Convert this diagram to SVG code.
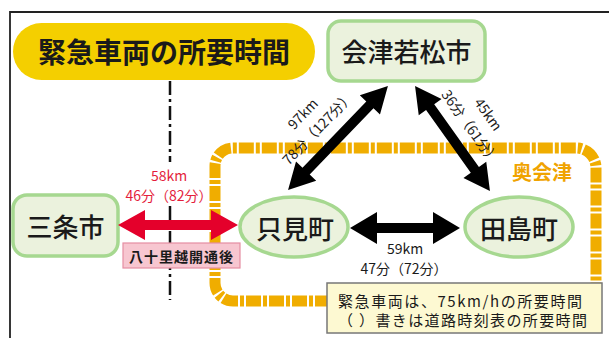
<svg xmlns="http://www.w3.org/2000/svg" width="609" height="338" viewBox="0 0 609 338">
<style>
text{font-family:"Noto Sans CJK JP","Noto Sans",sans-serif;dominant-baseline:central}
.node{fill:#ebf2dd;stroke:#a6d890;stroke-width:3.5}
.nl{font-size:26px;fill:#1a1a1a;text-anchor:middle;font-weight:500}
.lbl{font-size:14px;fill:#1a1a1a;text-anchor:middle}
.red{font-size:14px;fill:#e41e3c;text-anchor:middle}
.blk{fill:#000}
</style>
<rect width="609" height="338" fill="#fff"/>
<path d="M10 338 V12 H609" fill="none" stroke="#222" stroke-width="1.8"/>

<g id="area">
<path d="M330 301 H233 A18 18 0 0 1 215 283 V166 A18 18 0 0 1 233 148 H576 A20 20 0 0 1 596 168 V290" fill="none" stroke="#f0ad00" stroke-width="11" stroke-dasharray="15 2 4 2"/>
<text x="542" y="171" font-size="20" font-weight="bold" fill="#f0a300" text-anchor="middle">奥会津</text>
</g>

<g id="border-line" stroke="#111" stroke-width="2.5" stroke-dasharray="14 4 3 4" fill="none">
<line x1="170" y1="81" x2="170" y2="162"/>
<line x1="170" y1="206" x2="170" y2="300"/>
</g>

<g id="title">
<rect x="13" y="23" width="302" height="57" rx="28.5" fill="#f4cf00"/>
<text x="164" y="51" font-size="28" font-weight="bold" fill="#1a1a1a" text-anchor="middle">緊急車両の所要時間</text>
</g>

<g id="aizuwakamatsu">
<rect class="node" x="328" y="21" width="157" height="60" rx="13"/>
<text class="nl" x="406.5" y="50">会津若松市</text>
</g>

<g id="sanjo">
<rect class="node" x="13" y="195" width="105" height="61" rx="14"/>
<text class="nl" x="65.5" y="225">三条市</text>
</g>

<g id="tadami">
<ellipse class="node" cx="294" cy="227" rx="54" ry="30"/>
<text class="nl" x="295" y="227">只見町</text>
</g>

<g id="tajima">
<ellipse class="node" cx="519" cy="227" rx="54" ry="30"/>
<text class="nl" x="519" y="227">田島町</text>
</g>

<g id="connectors">
<polygon transform="translate(178,225)" fill="#e4002b" points="-60,0 -33,-15 -33,-5 33,-5 33,-15 60,0 33,15 33,5 -33,5 -33,15"/>
<polygon class="blk" transform="translate(405,228)" points="-55,0 -28,-16 -28,-5 28,-5 28,-16 55,0 28,16 28,5 -28,5 -28,16"/>
<polygon class="blk" transform="translate(338,138) rotate(-46.1)" points="-72,0 -46,-14 -46,-5 46,-5 46,-14 72,0 46,14 46,5 -46,5 -46,14"/>
<polygon class="blk" transform="translate(452.5,138.5) rotate(54.5)" points="-64.5,0 -38.5,-14 -38.5,-5 38.5,-5 38.5,-14 64.5,0 38.5,14 38.5,5 -38.5,5 -38.5,14"/>
</g>

<g id="labels">
<text class="red" x="169" y="175">58km</text>
<text class="red" x="169" y="195">46分（82分）</text>
<text class="lbl" x="405" y="248">59km</text>
<text class="lbl" x="404" y="268">47分（72分）</text>
<g transform="translate(338,138) rotate(-46.1)">
<text class="lbl" x="-7" y="-43">97km</text>
<text class="lbl" x="-7" y="-22">78分（127分）</text>
</g>
<g transform="translate(452.5,138.5) rotate(54.5)">
<text class="lbl" x="1" y="-44">45km</text>
<text class="lbl" x="1" y="-22">36分（61分）</text>
</g>
</g>

<g id="yasojugoe">
<rect x="123" y="243" width="117" height="25" fill="#f7c6d0" stroke="#e58ea2" stroke-width="1.2"/>
<text x="181.5" y="256" font-size="14" font-weight="bold" fill="#1a1a1a" text-anchor="middle" letter-spacing="1">八十里越開通後</text>
</g>

<g id="note">
<rect x="327" y="283" width="275" height="50" fill="#fdf9d2" stroke="#777" stroke-width="1.5"/>
<text x="338" y="300" font-size="15" fill="#1a1a1a" textLength="244" lengthAdjust="spacing">緊急車両は、75km/hの所要時間</text>
<text x="338" y="319.5" font-size="15" fill="#1a1a1a" textLength="249" lengthAdjust="spacing">（ ）書きは道路時刻表の所要時間</text>
</g>
</svg>
